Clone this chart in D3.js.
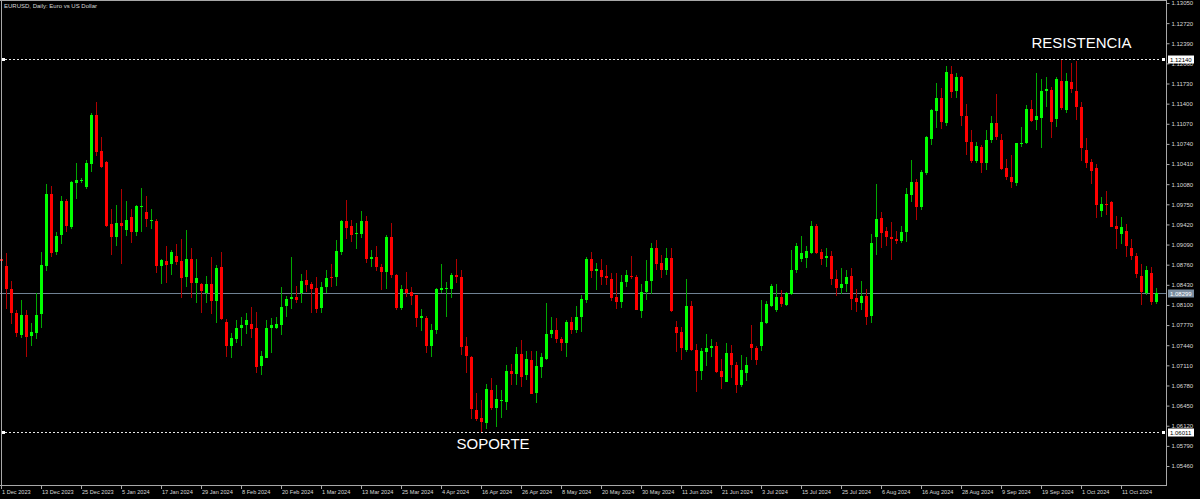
<!DOCTYPE html>
<html><head><meta charset="utf-8">
<script src="https://cdn.jsdelivr.net/npm/d3@7"></script>
<style>
html,body{margin:0;padding:0;background:#000;overflow:hidden;}
svg{display:block;}
</style></head><body>
<svg id="chart" width="1200" height="499"></svg>
<script>
// ---------- DATA ----------
const monthNames = ["Dec 2023","Jan 2024","Feb 2024","Mar 2024","Apr 2024","May 2024","Jun 2024","Jul 2024","Aug 2024","Sep 2024","Oct 2024"];
const tradingDays = [
 [1,4,5,6,7,8,11,12,13,14,15,18,19,20,21,22,25,26,27,28,29],
 [2,3,4,5,8,9,10,11,12,15,16,17,18,19,22,23,24,25,26,29,30,31],
 [1,2,5,6,7,8,9,12,13,14,15,16,19,20,21,22,23,26,27,28,29],
 [1,4,5,6,7,8,11,12,13,14,15,18,19,20,21,22,25,26,27,28,29],
 [1,2,3,4,5,8,9,10,11,12,15,16,17,18,19,22,23,24,25,26,29,30],
 [1,2,3,6,7,8,9,10,13,14,15,16,17,20,21,22,23,24,27,28,29,30,31],
 [3,4,5,6,7,10,11,12,13,14,17,18,19,20,21,24,25,26,27,28],
 [1,2,3,4,5,8,9,10,11,12,15,16,17,18,19,22,23,24,25,26,29,30,31],
 [1,2,5,6,7,8,9,12,13,14,15,16,19,20,21,22,23,26,27,28,29,30],
 [2,3,4,5,6,9,10,11,12,13,16,17,18,19,20,23,24,25,26,27,30],
 [1,2,3,4,7,8,9,10,11,14,15,16,17,18,21,22]
];
const opens = [
1.0885,1.0874,1.0836,1.0796,1.0762,1.0794,1.0758,1.0764,1.0795,1.0874,
1.0992,1.0897,1.0924,1.0981,1.0938,1.1010,1.1013,1.1003,1.1041,1.1121,
1.1062,1.1045,1.0943,1.0921,1.0945,1.0933,1.0954,1.0930,1.0971,1.0962,
1.0948,1.0948,1.0874,1.0882,1.0877,1.0891,1.0882,1.0855,1.0885,1.0845,
1.0844,1.0831,1.0845,1.0817,1.0872,1.0782,1.0742,1.0754,1.0772,1.0777,
1.0778,1.0772,1.0709,1.0724,1.0772,1.0772,1.0778,1.0807,1.0819,1.0823,
1.0830,1.0851,1.0844,1.0838,1.0804,1.0839,1.0855,1.0855,1.0897,1.0948,
1.0940,1.0926,1.0926,1.0948,1.0885,1.0888,1.0872,1.0864,1.0921,1.0859,
1.0805,1.0836,1.0832,1.0826,1.0788,1.0788,1.0742,1.0769,1.0835,1.0836,
1.0836,1.0859,1.0856,1.0742,1.0725,1.0637,1.0624,1.0617,1.0671,1.0642,
1.0653,1.0651,1.0702,1.0698,1.0730,1.0694,1.0720,1.0665,1.0709,1.0721,
1.0762,1.0769,1.0754,1.0747,1.0782,1.0769,1.0789,1.0817,1.0885,1.0866,
1.0868,1.0857,1.0853,1.0823,1.0814,1.0848,1.0857,1.0855,1.0801,1.0831,
1.0850,1.0904,1.0879,1.0867,1.0887,1.0774,1.0766,1.0736,1.0808,1.0736,
1.0702,1.0734,1.0740,1.0743,1.0702,1.0684,1.0732,1.0712,1.0679,1.0699,
1.0746,1.0739,1.0743,1.0780,1.0808,1.0801,1.0823,1.0811,1.0828,1.0867,
1.0885,1.0887,1.0896,1.0940,1.0896,1.0887,1.0890,1.0853,1.0839,1.0844,
1.0857,1.0821,1.0814,1.0825,1.0791,1.0922,1.0952,1.0931,1.0921,1.0918,
1.0915,1.0929,1.0990,1.1012,1.0971,1.1027,1.1083,1.1128,1.1149,1.1109,
1.1189,1.1160,1.1183,1.1119,1.1077,1.1046,1.1069,1.1043,1.1081,1.1109,
1.1080,1.1034,1.1019,1.1010,1.1073,1.1076,1.1132,1.1112,1.1117,1.1161,
1.1162,1.1115,1.1177,1.1130,1.1176,1.1161,1.1134,1.1064,1.1045,1.1035,
1.0963,1.0975,1.0978,1.0940,1.0925,1.0932,1.0904,1.0890,1.0857,1.0830,
1.0862,1.0814];
const highs = [
1.0892,1.0895,1.0849,1.0802,1.0818,1.0802,1.0780,1.0829,1.0896,1.1009,
1.1005,1.0930,1.0989,1.0984,1.1013,1.1042,1.1018,1.1048,1.1125,1.1142,
1.1086,1.1046,1.0968,1.0974,1.1000,1.0981,1.0967,1.0974,1.1002,1.0989,
1.0968,1.0951,1.0886,1.0907,1.0900,1.0910,1.0918,1.0933,1.0903,1.0886,
1.0846,1.0857,1.0889,1.0876,1.0897,1.0787,1.0764,1.0785,1.0791,1.0796,
1.0806,1.0799,1.0735,1.0786,1.0788,1.0790,1.0840,1.0825,1.0888,1.0841,
1.0861,1.0867,1.0848,1.0856,1.0848,1.0868,1.0877,1.0917,1.0950,1.0982,
1.0950,1.0945,1.0964,1.0956,1.0900,1.0907,1.0877,1.0925,1.0944,1.0860,
1.0843,1.0864,1.0839,1.0827,1.0804,1.0792,1.0779,1.0837,1.0877,1.0848,
1.0863,1.0885,1.0867,1.0757,1.0726,1.0666,1.0654,1.0680,1.0690,1.0678,
1.0671,1.0712,1.0714,1.0741,1.0752,1.0734,1.0735,1.0734,1.0731,1.0813,
1.0791,1.0788,1.0758,1.0785,1.0791,1.0808,1.0826,1.0888,1.0896,1.0879,
1.0885,1.0876,1.0863,1.0862,1.0859,1.0868,1.0890,1.0859,1.0845,1.0883,
1.0911,1.0917,1.0892,1.0903,1.0903,1.0783,1.0774,1.0853,1.0817,1.0746,
1.0739,1.0762,1.0754,1.0750,1.0721,1.0747,1.0744,1.0717,1.0728,1.0725,
1.0777,1.0742,1.0818,1.0817,1.0844,1.0845,1.0835,1.0832,1.0900,1.0912,
1.0923,1.0907,1.0948,1.0943,1.0901,1.0903,1.0899,1.0867,1.0870,1.0868,
1.0870,1.0836,1.0849,1.0836,1.0927,1.1008,1.0963,1.0937,1.0946,1.0931,
1.0939,1.1001,1.1048,1.1016,1.1031,1.1087,1.1131,1.1174,1.1165,1.1202,
1.1202,1.1191,1.1185,1.1139,1.1096,1.1077,1.1073,1.1097,1.1120,1.1155,
1.1091,1.1050,1.1056,1.1076,1.1102,1.1138,1.1146,1.1190,1.1180,1.1183,
1.1168,1.1183,1.1213,1.1191,1.1206,1.1210,1.1143,1.1083,1.1049,1.1041,
1.0987,1.0997,1.0981,1.0955,1.0954,1.0943,1.0918,1.0895,1.0877,1.0874,
1.0872,1.0838];
const lows = [
1.0875,1.0803,1.0779,1.0757,1.0755,1.0724,1.0742,1.0754,1.0772,1.0866,
1.0889,1.0892,1.0910,1.0929,1.0935,1.0983,1.1010,1.1000,1.1028,1.1054,
1.1034,1.0937,1.0892,1.0906,1.0877,1.0923,1.0911,1.0923,1.0930,1.0937,
1.0934,1.0863,1.0845,1.0846,1.0859,1.0876,1.0821,1.0840,1.0821,1.0813,
1.0796,1.0813,1.0795,1.0780,1.0786,1.0724,1.0723,1.0747,1.0742,1.0762,
1.0755,1.0699,1.0695,1.0723,1.0732,1.0770,1.0761,1.0791,1.0803,1.0814,
1.0814,1.0832,1.0796,1.0796,1.0796,1.0829,1.0839,1.0841,1.0892,1.0918,
1.0914,1.0901,1.0919,1.0879,1.0872,1.0866,1.0835,1.0836,1.0854,1.0802,
1.0802,1.0823,1.0810,1.0774,1.0768,1.0731,1.0724,1.0763,1.0829,1.0791,
1.0821,1.0846,1.0728,1.0699,1.0623,1.0620,1.0600,1.0606,1.0638,1.0610,
1.0624,1.0638,1.0679,1.0679,1.0675,1.0687,1.0664,1.0650,1.0690,1.0720,
1.0755,1.0748,1.0735,1.0724,1.0762,1.0764,1.0766,1.0814,1.0854,1.0835,
1.0843,1.0843,1.0817,1.0804,1.0805,1.0840,1.0852,1.0801,1.0788,1.0818,
1.0828,1.0868,1.0854,1.0859,1.0799,1.0733,1.0720,1.0733,1.0735,1.0668,
1.0687,1.0710,1.0725,1.0699,1.0672,1.0683,1.0691,1.0666,1.0675,1.0685,
1.0720,1.0711,1.0735,1.0778,1.0807,1.0799,1.0806,1.0808,1.0826,1.0863,
1.0881,1.0871,1.0893,1.0893,1.0876,1.0873,1.0843,1.0825,1.0828,1.0832,
1.0802,1.0799,1.0802,1.0777,1.0781,1.0892,1.0904,1.0906,1.0883,1.0910,
1.0911,1.0914,1.0979,1.0949,1.0966,1.1023,1.1072,1.1100,1.1098,1.1104,
1.1150,1.1150,1.1103,1.1056,1.1043,1.1043,1.1027,1.1031,1.1075,1.1081,
1.1031,1.1015,1.1002,1.1005,1.1069,1.1074,1.1110,1.1097,1.1068,1.1135,
1.1083,1.1102,1.1130,1.1125,1.1158,1.1113,1.1046,1.1034,1.1008,1.0952,
1.0954,1.0957,1.0937,1.0901,1.0910,1.0888,1.0884,1.0854,1.0810,1.0826,
1.0810,1.0812];
const closes = [
1.0882,1.0836,1.0796,1.0763,1.0794,1.0758,1.0765,1.0794,1.0876,1.0992,
1.0895,1.0923,1.0980,1.0940,1.1011,1.1015,1.1015,1.1043,1.1121,1.1061,
1.1036,1.0940,1.0921,1.0944,1.0940,1.0950,1.0930,1.0973,1.0972,1.0950,
1.0949,1.0874,1.0884,1.0876,1.0897,1.0881,1.0854,1.0885,1.0845,1.0854,
1.0832,1.0845,1.0817,1.0871,1.0786,1.0742,1.0755,1.0772,1.0777,1.0785,
1.0770,1.0708,1.0726,1.0773,1.0777,1.0779,1.0807,1.0819,1.0823,1.0818,
1.0849,1.0843,1.0836,1.0803,1.0839,1.0854,1.0853,1.0898,1.0948,1.0937,
1.0925,1.0928,1.0948,1.0885,1.0888,1.0872,1.0864,1.0922,1.0859,1.0805,
1.0836,1.0830,1.0826,1.0789,1.0792,1.0742,1.0769,1.0836,1.0838,1.0838,
1.0859,1.0856,1.0742,1.0725,1.0639,1.0623,1.0617,1.0672,1.0641,1.0656,
1.0654,1.0702,1.0697,1.0730,1.0692,1.0721,1.0665,1.0710,1.0725,1.0762,
1.0769,1.0754,1.0747,1.0782,1.0769,1.0791,1.0819,1.0885,1.0866,1.0869,
1.0856,1.0853,1.0822,1.0814,1.0847,1.0859,1.0855,1.0801,1.0832,1.0849,
1.0904,1.0878,1.0868,1.0887,1.0800,1.0764,1.0740,1.0808,1.0736,1.0702,
1.0734,1.0740,1.0743,1.0701,1.0692,1.0732,1.0713,1.0679,1.0703,1.0712,
1.0740,1.0719,1.0782,1.0811,1.0841,1.0823,1.0812,1.0830,1.0868,1.0907,
1.0895,1.0899,1.0940,1.0896,1.0884,1.0890,1.0853,1.0839,1.0845,1.0855,
1.0820,1.0814,1.0825,1.0791,1.0911,1.0951,1.0928,1.0921,1.0918,1.0915,
1.0930,1.0992,1.1011,1.0971,1.1028,1.1086,1.1130,1.1149,1.1110,1.1192,
1.1160,1.1183,1.1119,1.1076,1.1046,1.1070,1.1042,1.1081,1.1109,1.1086,
1.1033,1.1019,1.1011,1.1075,1.1075,1.1132,1.1113,1.1119,1.1161,1.1164,
1.1110,1.1180,1.1132,1.1177,1.1164,1.1134,1.1067,1.1043,1.1030,1.0974,
1.0975,1.0973,1.0937,1.0935,1.0937,1.0908,1.0891,1.0860,1.0830,1.0868,
1.0814,1.0829];
const tickLabels = ["1 Dec 2023","13 Dec 2023","25 Dec 2023","5 Jan 2024","17 Jan 2024","29 Jan 2024","8 Feb 2024","20 Feb 2024","1 Mar 2024","13 Mar 2024","25 Mar 2024","4 Apr 2024","16 Apr 2024","26 Apr 2024","8 May 2024","20 May 2024","30 May 2024","11 Jun 2024","21 Jun 2024","3 Jul 2024","15 Jul 2024","25 Jul 2024","6 Aug 2024","16 Aug 2024","28 Aug 2024","9 Sep 2024","19 Sep 2024","1 Oct 2024","11 Oct 2024"];
const priceTicks = [1.13050,1.12720,1.12390,1.12060,1.11730,1.11400,1.11070,1.10740,1.10410,1.10080,1.09750,1.09420,1.09090,1.08760,1.08430,1.08100,1.07770,1.07440,1.07110,1.06780,1.06450,1.06120,1.05790,1.05460];
const resistanceLevel = 1.12140;
const supportLevel = 1.06011;
const lastPrice = 1.08299;
const titleText = "EURUSD, Daily:  Euro vs US Dollar";
const annotations = [{text:"RESISTENCIA", date:"17 Sep 2024", price:1.12304},{text:"SOPORTE", date:"9 Apr 2024", price:1.05740}];

// ---------- LAYOUT ----------
const plotRight = 1166, plotBottom = 486;
const smallFont = "'Liberation Sans', Arial, sans-serif";
const dates = [];
monthNames.forEach((m, i) => tradingDays[i].forEach(d => dates.push(d + " " + m)));
const candles = dates.map((d, i) => ({d, o: opens[i], h: highs[i], l: lows[i], c: closes[i]}));

const svg = d3.select("#chart");
svg.append("rect").attr("width", 1200).attr("height", 499).attr("fill", "#000");

const x = d3.scaleBand().domain(dates).range([-1, -1 + 5 * dates.length]).padding(0);
const y = d3.scaleLinear().domain([1.05132, 1.13099]).range([plotBottom, 0]);
const cx = d => x(d) + x.bandwidth() / 2;

svg.append("defs").append("clipPath").attr("id", "clip")
  .append("rect").attr("x", 0).attr("y", 0).attr("width", plotRight).attr("height", plotBottom);

const plot = svg.append("g").attr("clip-path", "url(#clip)");

// current price line
const yLast = Math.round(y(lastPrice)) + 0.5;
plot.append("line").attr("x1", 0).attr("x2", plotRight).attr("y1", yLast).attr("y2", yLast)
  .attr("stroke", "#6f8193").attr("stroke-width", 1);

// candles
const up = d => d.c >= d.o;
plot.selectAll("line.wick").data(candles).join("line").attr("class", "wick")
  .attr("x1", d => cx(d.d)).attr("x2", d => cx(d.d))
  .attr("y1", d => Math.round(y(d.h))).attr("y2", d => Math.round(y(d.l)))
  .attr("stroke", d => up(d) ? "#00a800" : "#b00000").attr("stroke-width", 1);
plot.selectAll("rect.body").data(candles).join("rect").attr("class", "body")
  .attr("x", d => x(d.d) + 1).attr("width", 3)
  .attr("y", d => Math.round(y(Math.max(d.o, d.c))))
  .attr("height", d => Math.max(1, Math.round(Math.abs(y(d.o) - y(d.c)))))
  .attr("fill", d => up(d) ? "#00ff00" : "#ff0000")
  .attr("shape-rendering", "crispEdges");

// support / resistance
[resistanceLevel, supportLevel].forEach(p => {
  const yy = Math.round(y(p)) + 0.5;
  plot.append("line").attr("x1", 5).attr("x2", 1161).attr("y1", yy).attr("y2", yy)
    .attr("stroke", "#e8e8e8").attr("stroke-dasharray", "2,2");
  svg.append("rect").attr("x", 2).attr("y", yy - 1.5).attr("width", 3).attr("height", 3).attr("fill", "#fff");
  svg.append("rect").attr("x", 1162).attr("y", yy - 1.5).attr("width", 3).attr("height", 3).attr("fill", "#fff");
});

// frame
const frame = svg.append("g").attr("stroke", "#a8a8a8").attr("stroke-width", 1).attr("shape-rendering", "crispEdges");
frame.append("line").attr("x1", 1.5).attr("x2", 1.5).attr("y1", 0).attr("y2", plotBottom);
frame.append("line").attr("x1", 0).attr("x2", plotRight + 1).attr("y1", 0.5).attr("y2", 0.5);
frame.append("line").attr("x1", 0).attr("x2", plotRight + 1).attr("y1", plotBottom - 0.5).attr("y2", plotBottom - 0.5);
frame.append("line").attr("x1", plotRight + 0.5).attr("x2", plotRight + 0.5).attr("y1", 0).attr("y2", plotBottom);

// x axis
const xAxis = d3.axisBottom(x).tickValues(tickLabels).tickSize(3).tickPadding(1).offset(0);
const gx = svg.append("g").attr("transform", `translate(0,${plotBottom})`).call(xAxis);
gx.select(".domain").remove();
gx.selectAll(".tick line").attr("stroke", "#a8a8a8");
gx.selectAll(".tick text").attr("text-anchor", "start").attr("x", 0.5).attr("dy", "0.71em")
  .attr("fill", "#d8d8d8").attr("font-size", "5.6px").attr("font-family", smallFont);

// y axis
const yAxis = d3.axisRight(y).tickValues(priceTicks).tickSize(3).tickPadding(2).offset(0.5).tickFormat(d3.format(".5f"));
const gy = svg.append("g").attr("transform", `translate(${plotRight + 0.5},0)`).call(yAxis);
gy.select(".domain").remove();
gy.selectAll(".tick line").attr("stroke", "#a8a8a8");
gy.selectAll(".tick text").attr("fill", "#d8d8d8").attr("font-size", "6px").attr("font-family", smallFont);

// price boxes
function priceBox(p, fill, color) {
  const yy = Math.round(y(p)) + 0.5;
  svg.append("rect").attr("x", 1168).attr("y", yy - 4).attr("width", 26).attr("height", 8).attr("fill", fill);
  svg.append("text").attr("x", 1170).attr("y", yy).attr("dy", "0.35em").text(d3.format(".5f")(p))
    .attr("fill", color).attr("font-size", "6px").attr("font-family", smallFont);
}
priceBox(resistanceLevel, "#ffffff", "#000");
priceBox(supportLevel, "#ffffff", "#000");
priceBox(lastPrice, "#7b8ea1", "#ffffff");

// title
svg.append("text").attr("x", 4).attr("y", 8).text(titleText)
  .attr("fill", "#d8d8d8").attr("font-size", "6px").attr("font-family", smallFont);

// annotations
annotations.forEach(a => {
  svg.append("text").attr("x", cx(a.date)).attr("y", y(a.price)).text(a.text)
    .attr("fill", "#ffffff").attr("font-size", "15px").attr("font-family", "'Liberation Sans', Arial, sans-serif");
});
</script>
</body></html>
